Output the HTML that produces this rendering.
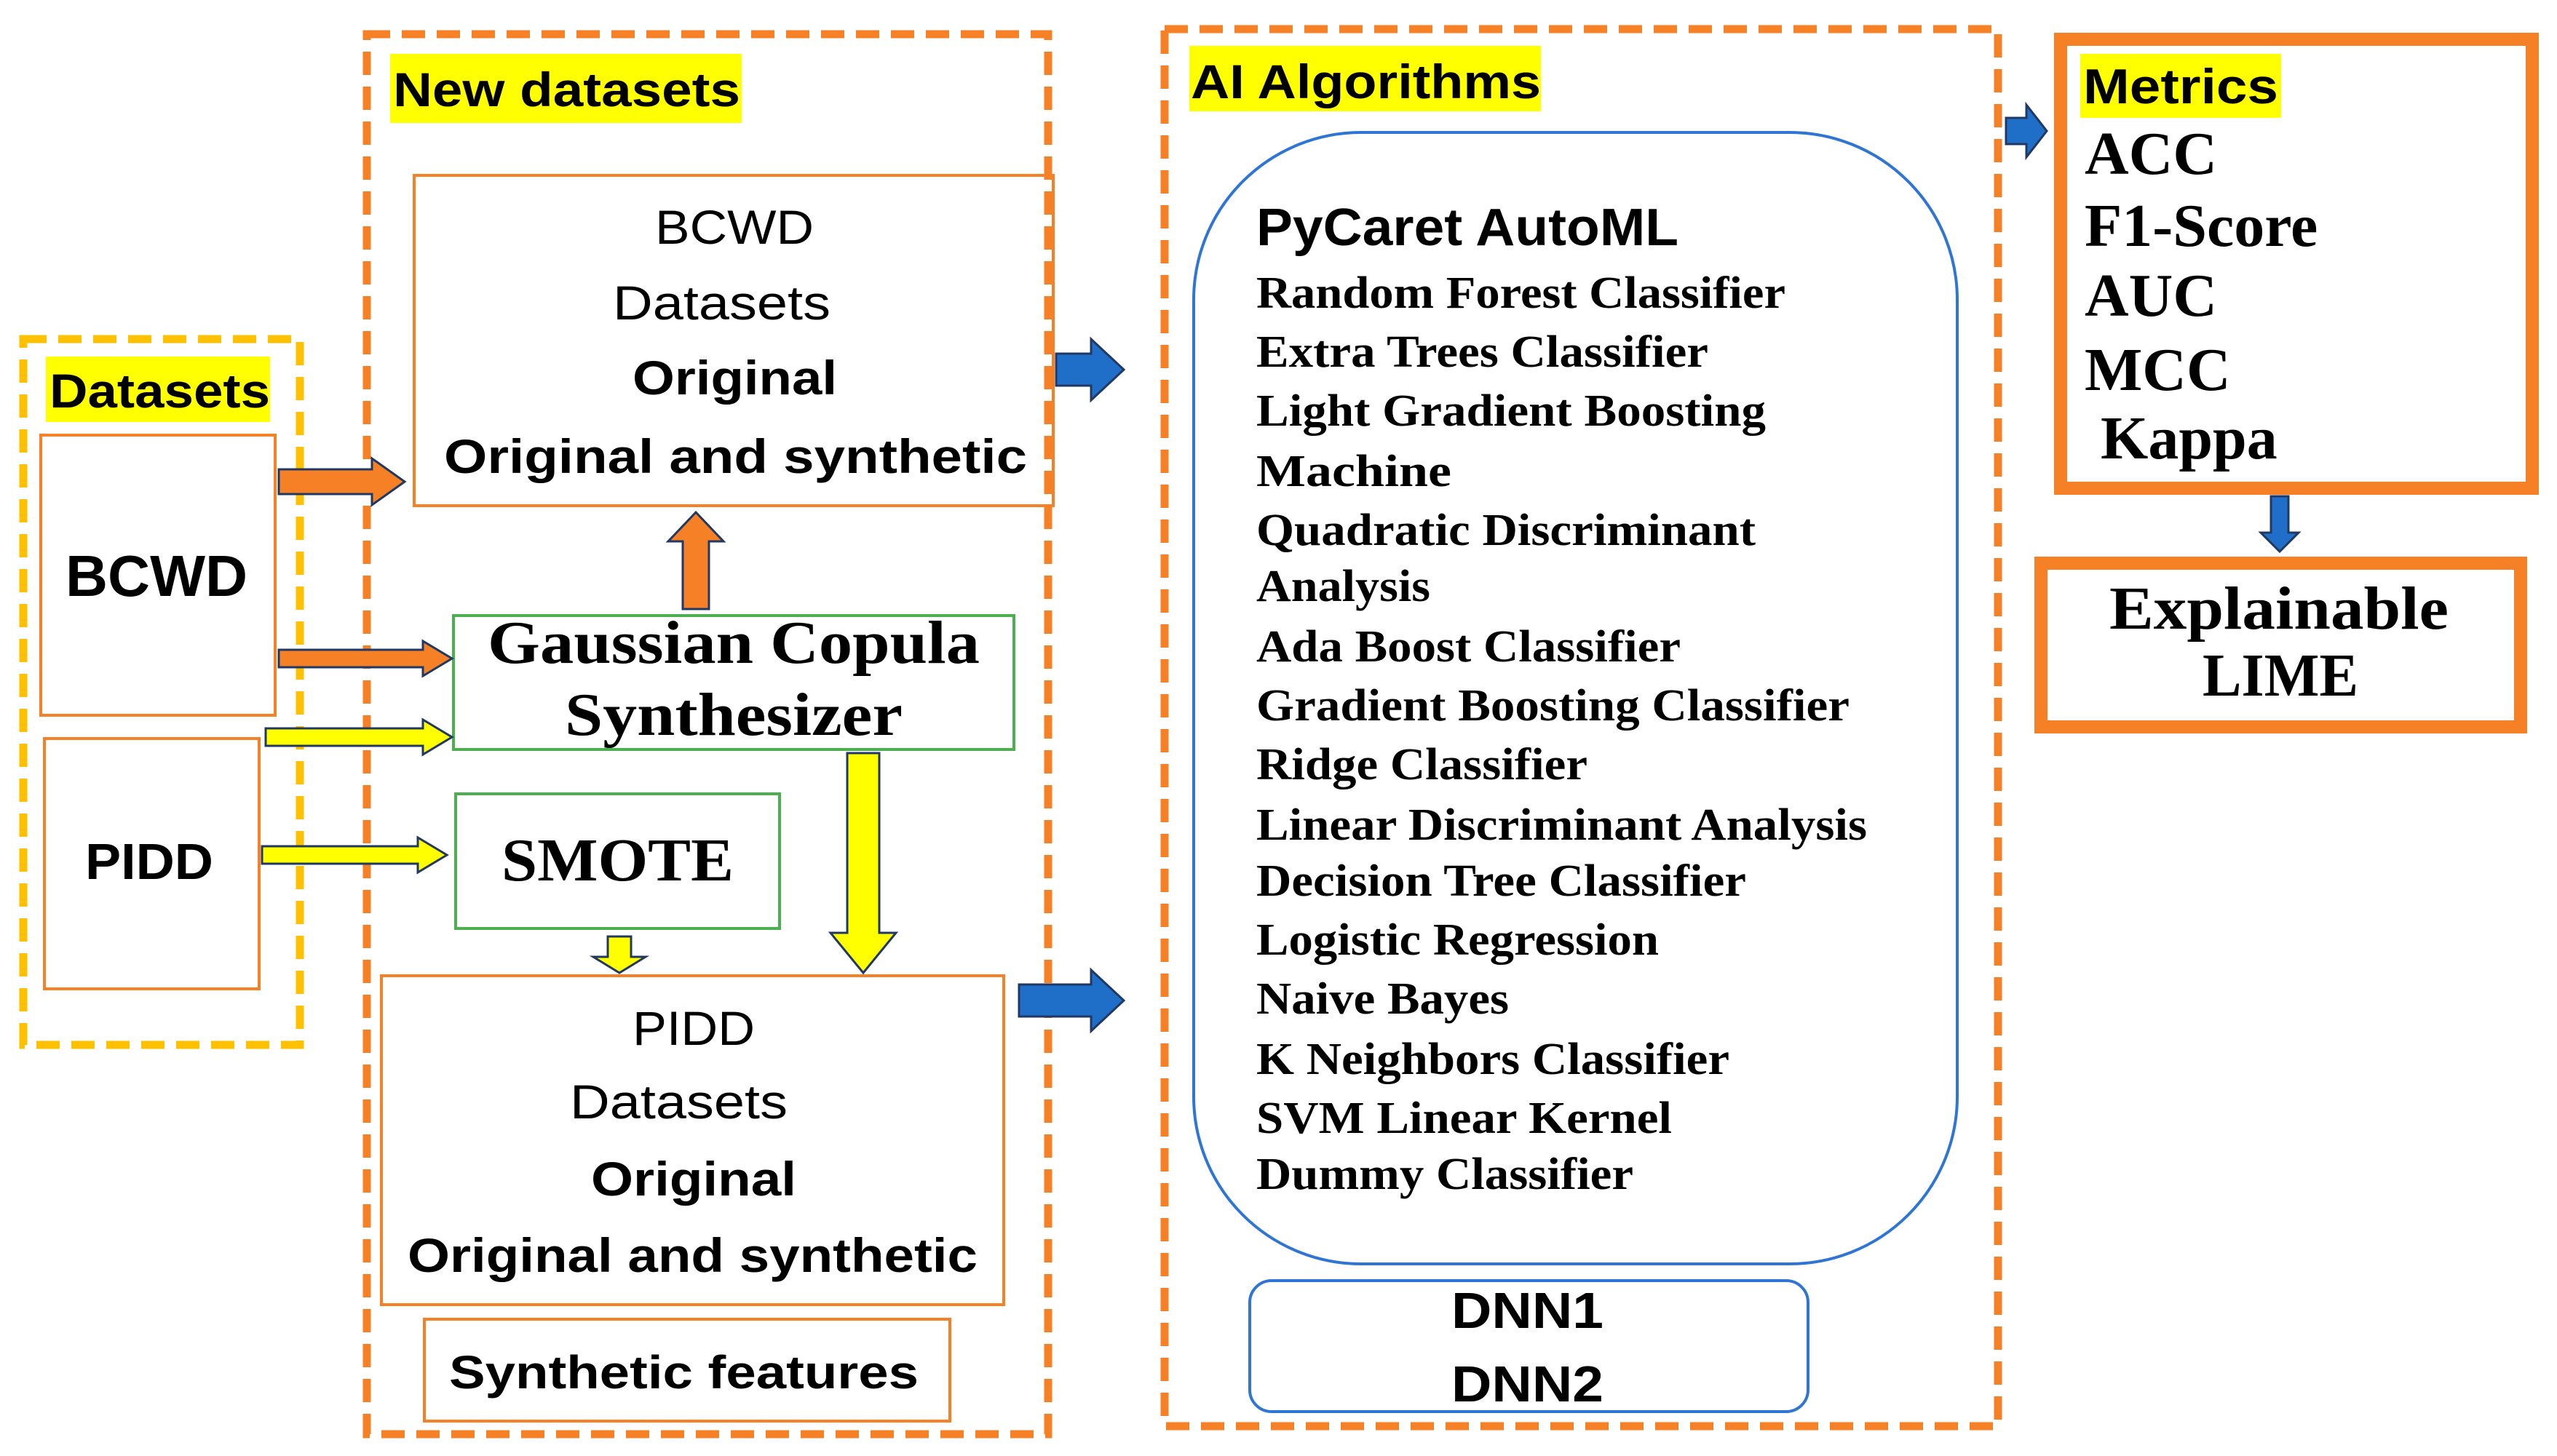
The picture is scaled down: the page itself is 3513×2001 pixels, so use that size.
<!DOCTYPE html>
<html><head><meta charset="utf-8"><style>html,body{margin:0;padding:0;background:#fff}svg{display:block}</style></head><body>
<svg width="3513" height="2001" viewBox="0 0 3513 2001" xmlns="http://www.w3.org/2000/svg">
<rect width="3513" height="2001" fill="#fff"/>
<!-- dashed containers -->
<rect x="32" y="466" width="380" height="970" fill="none" stroke="#FFC000" stroke-width="11" stroke-dasharray="32 16"/>
<rect x="504" y="47" width="936" height="1924" fill="none" stroke="#F58025" stroke-width="11" stroke-dasharray="32 16"/>
<rect x="1600" y="40" width="1145" height="1920" fill="none" stroke="#F58025" stroke-width="11" stroke-dasharray="32 16"/>
<!-- highlights -->
<rect x="63" y="490" width="308" height="90" fill="#FFFF00"/>
<rect x="536" y="74" width="483" height="95" fill="#FFFF00"/>
<rect x="1634" y="63" width="483" height="90" fill="#FFFF00"/>
<rect x="2858" y="74" width="276" height="88" fill="#FFFF00"/>
<!-- boxes -->
<rect x="56" y="598" width="322" height="385" fill="none" stroke="#F58025" stroke-width="4"/>
<rect x="61" y="1015" width="295" height="344" fill="none" stroke="#F58025" stroke-width="4"/>
<rect x="569" y="241" width="878" height="454" fill="none" stroke="#F58025" stroke-width="4"/>
<rect x="623" y="846" width="770" height="184" fill="none" stroke="#4CAF50" stroke-width="4"/>
<rect x="626" y="1091" width="445" height="185" fill="none" stroke="#4CAF50" stroke-width="4"/>
<rect x="524" y="1341" width="855" height="452" fill="none" stroke="#F58025" stroke-width="4"/>
<rect x="583" y="1813" width="722" height="140" fill="none" stroke="#F58025" stroke-width="4"/>
<rect x="1640" y="182" width="1049" height="1555" rx="230" ry="230" fill="none" stroke="#2E75D6" stroke-width="4"/>
<rect x="1717" y="1760" width="767" height="180" rx="30" ry="30" fill="none" stroke="#2E75D6" stroke-width="4"/>
<rect x="2831" y="54" width="648" height="617" fill="none" stroke="#F58025" stroke-width="18"/>
<rect x="2804" y="774" width="659" height="225" fill="none" stroke="#F58025" stroke-width="18"/>
<!-- arrows -->
<g stroke="#1F3864" stroke-width="3" stroke-linejoin="miter">
<polygon fill="#F58025" points="383,645 511,645 511,630 556,662 511,694 511,679 383,679"/>
<polygon fill="#F58025" points="383,893 581,893 581,881 621,905 581,929 581,917 383,917"/>
<polygon fill="#FFFF00" points="365,1001 581,1001 581,989 621,1013 581,1037 581,1025 365,1025"/>
<polygon fill="#FFFF00" points="360,1163 574,1163 574,1151 614,1175 574,1199 574,1187 360,1187"/>
<polygon fill="#F58025" points="938,837 938,744 918,744 956,704 994,744 974,744 974,837"/>
<polygon fill="#FFFF00" points="835,1287 867,1287 867,1315 887,1315 851,1337 815,1315 835,1315"/>
<polygon fill="#FFFF00" points="1164,1035 1208,1035 1208,1282 1231,1282 1186,1337 1141,1282 1164,1282"/>
<polygon fill="#1F6FC8" points="1451,486 1499,486 1499,466 1544,508 1499,550 1499,530 1451,530"/>
<polygon fill="#1F6FC8" points="1400,1353 1499,1353 1499,1333 1544,1375 1499,1417 1499,1397 1400,1397"/>
<polygon fill="#1F6FC8" points="2756,162 2784,162 2784,144 2812,180 2784,216 2784,198 2756,198"/>
<polygon fill="#1F6FC8" points="3120,682 3144,682 3144,732 3158,732 3132,758 3106,732 3120,732"/>
</g>
<!-- sans text -->
<g font-family="Liberation Sans, sans-serif" fill="#000" font-weight="bold" lengthAdjust="spacingAndGlyphs">
<text x="540" y="146" font-size="66" textLength="477" lengthAdjust="spacingAndGlyphs">New datasets</text>
<text x="68" y="560" font-size="66" textLength="303" lengthAdjust="spacingAndGlyphs">Datasets</text>
<text x="90" y="819" font-size="80" textLength="250" lengthAdjust="spacingAndGlyphs">BCWD</text>
<text x="117" y="1208" font-size="70" textLength="176" lengthAdjust="spacingAndGlyphs">PIDD</text>
<text x="900" y="335" font-size="66" font-weight="normal" textLength="218" lengthAdjust="spacingAndGlyphs">BCWD</text>
<text x="842" y="439" font-size="66" font-weight="normal" textLength="299" lengthAdjust="spacingAndGlyphs">Datasets</text>
<text x="869" y="542" font-size="66" textLength="281" lengthAdjust="spacingAndGlyphs">Original</text>
<text x="610" y="650" font-size="66" textLength="801" lengthAdjust="spacingAndGlyphs">Original  and synthetic</text>
<text x="869" y="1436" font-size="66" font-weight="normal" textLength="168" lengthAdjust="spacingAndGlyphs">PIDD</text>
<text x="783" y="1537" font-size="66" font-weight="normal" textLength="299" lengthAdjust="spacingAndGlyphs">Datasets</text>
<text x="812" y="1643" font-size="66" textLength="282" lengthAdjust="spacingAndGlyphs">Original</text>
<text x="560" y="1748" font-size="66" textLength="783" lengthAdjust="spacingAndGlyphs">Original and synthetic</text>
<text x="617" y="1908" font-size="64" textLength="645" lengthAdjust="spacingAndGlyphs">Synthetic features</text>
<text x="1636" y="135" font-size="66" textLength="481" lengthAdjust="spacingAndGlyphs">AI Algorithms</text>
<text x="1726" y="337" font-size="72" textLength="580" lengthAdjust="spacingAndGlyphs">PyCaret AutoML</text>
<text x="1994" y="1825" font-size="70" textLength="209" lengthAdjust="spacingAndGlyphs">DNN1</text>
<text x="1994" y="1926" font-size="70" textLength="209" lengthAdjust="spacingAndGlyphs">DNN2</text>
<text x="2862" y="142" font-size="68" textLength="268" lengthAdjust="spacingAndGlyphs">Metrics</text>
</g>
<!-- serif text -->
<g font-family="Liberation Serif, serif" fill="#000" font-weight="bold">
<text x="670" y="911" font-size="84" textLength="676" lengthAdjust="spacingAndGlyphs">Gaussian Copula</text>
<text x="776" y="1010" font-size="84" textLength="464" lengthAdjust="spacingAndGlyphs">Synthesizer</text>
<text x="689" y="1210" font-size="84" textLength="319" lengthAdjust="spacingAndGlyphs">SMOTE</text>
<g font-size="62">
<text x="1726" y="423" textLength="727" lengthAdjust="spacingAndGlyphs">Random Forest Classifier</text>
<text x="1726" y="504" textLength="621" lengthAdjust="spacingAndGlyphs">Extra Trees Classifier</text>
<text x="1726" y="585" textLength="700" lengthAdjust="spacingAndGlyphs">Light Gradient Boosting</text>
<text x="1726" y="668" textLength="268" lengthAdjust="spacingAndGlyphs">Machine</text>
<text x="1726" y="749" textLength="686" lengthAdjust="spacingAndGlyphs">Quadratic Discriminant</text>
<text x="1726" y="826" textLength="239" lengthAdjust="spacingAndGlyphs">Analysis</text>
<text x="1726" y="909" textLength="583" lengthAdjust="spacingAndGlyphs">Ada Boost Classifier</text>
<text x="1726" y="990" textLength="815" lengthAdjust="spacingAndGlyphs">Gradient Boosting Classifier</text>
<text x="1726" y="1071" textLength="455" lengthAdjust="spacingAndGlyphs">Ridge Classifier</text>
<text x="1726" y="1154" textLength="839" lengthAdjust="spacingAndGlyphs">Linear Discriminant Analysis</text>
<text x="1726" y="1231" textLength="673" lengthAdjust="spacingAndGlyphs">Decision Tree Classifier</text>
<text x="1726" y="1312" textLength="553" lengthAdjust="spacingAndGlyphs">Logistic Regression</text>
<text x="1726" y="1393" textLength="347" lengthAdjust="spacingAndGlyphs">Naive Bayes</text>
<text x="1726" y="1476" textLength="650" lengthAdjust="spacingAndGlyphs">K Neighbors Classifier</text>
<text x="1726" y="1557" textLength="571" lengthAdjust="spacingAndGlyphs">SVM Linear Kernel</text>
<text x="1726" y="1634" textLength="518" lengthAdjust="spacingAndGlyphs">Dummy Classifier</text>
</g>
<g font-size="84">
<text x="2864" y="239">ACC</text>
<text x="2864" y="338">F1-Score</text>
<text x="2864" y="434">AUC</text>
<text x="2864" y="536">MCC</text>
<text x="2886" y="630">Kappa</text>
<text x="2898" y="864" textLength="466" lengthAdjust="spacingAndGlyphs">Explainable</text>
<text x="3026" y="956" textLength="214" lengthAdjust="spacingAndGlyphs">LIME</text>
</g>
</g>
</svg>
</body></html>
